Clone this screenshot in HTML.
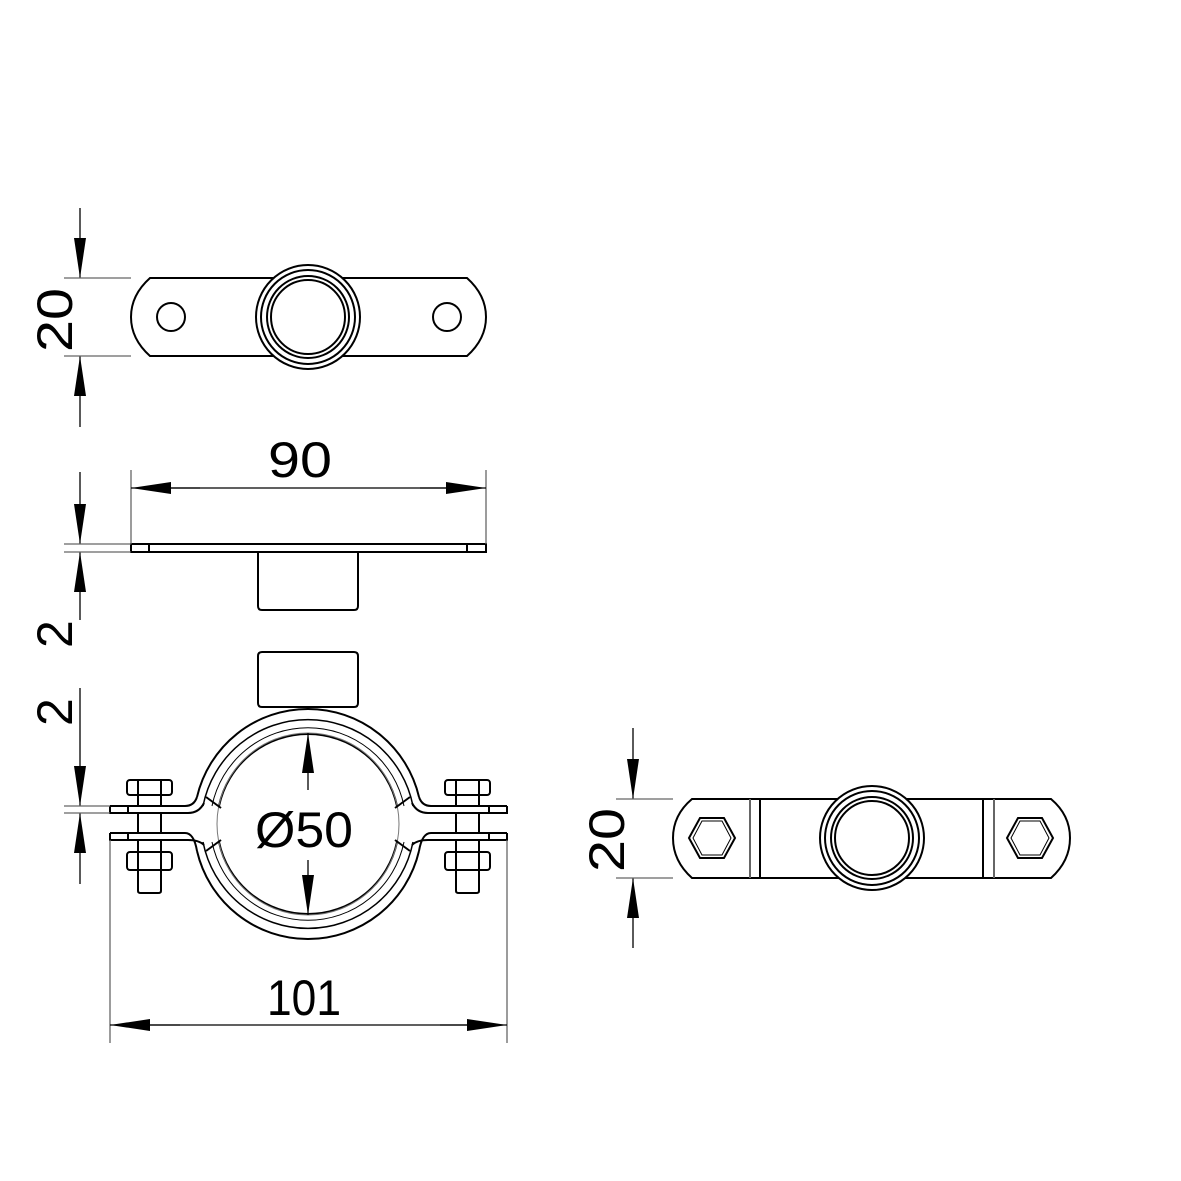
<!DOCTYPE html>
<html><head><meta charset="utf-8"><style>body{margin:0;background:#fff}svg{display:block}</style></head><body>
<svg width="1181" height="1181" viewBox="0 0 1181 1181" xmlns="http://www.w3.org/2000/svg">
<defs>
<marker id="a" viewBox="0 0 40 12" refX="40" refY="6" markerWidth="40" markerHeight="12" markerUnits="userSpaceOnUse" orient="auto"><path d="M0,0 L40,6 L0,12 Z" fill="#000"/></marker>
</defs>
<g fill="none" stroke="#000" stroke-width="2">
<!-- top view -->
<path d="M150,278 H467 Q486,295 486,317 Q486,339 467,356 H150 Q131,339 131,317 Q131,295 150,278 Z"/>
<circle cx="171" cy="317" r="14"/><circle cx="447" cy="317" r="14"/>
<circle cx="308" cy="317" r="52" fill="#fff"/><circle cx="308" cy="317" r="47"/><circle cx="308" cy="317" r="41"/><circle cx="308" cy="317" r="37"/>
<!-- side plate -->
<rect x="131" y="544" width="355" height="8"/>
<line x1="149" y1="544" x2="149" y2="552"/><line x1="467" y1="544" x2="467" y2="552"/>
<path d="M258,552 V606 Q258,610 262,610 H354 Q358,610 358,606 V552"/>
<!-- lower nut -->
<path d="M258,703 V656 Q258,652 262,652 H354 Q358,652 358,656 V703 Q358,707 354,707 H262 Q258,707 258,703 Z"/>
<!-- clamp -->
<path d="M197,797 A114,114 0 0 1 419,797"/>
<path d="M203,806 A107,107 0 0 1 413,806" stroke-width="1.5"/>
<path d="M212,806 A98,98 0 0 1 404,806" stroke-width="1"/>
<path d="M219,806 A91,91 0 0 1 397,806"/>
<path d="M197,851 A114,114 0 0 0 419,851"/>
<path d="M203,842 A107,107 0 0 0 413,842" stroke-width="1.5"/>
<path d="M212,842 A98,98 0 0 0 404,842" stroke-width="1"/>
<path d="M219,842 A91,91 0 0 0 397,842"/>
<circle cx="308" cy="824" r="91" stroke-width="1" stroke="#777"/>
<line x1="206" y1="797" x2="221" y2="808"/><line x1="410" y1="797" x2="395" y2="808"/>
<line x1="206" y1="851" x2="221" y2="840"/><line x1="410" y1="851" x2="395" y2="840"/>
<!-- flanges -->
<path d="M110,806 H185 Q194,806 197,797 M110,806 V813 H188 Q199,813 204,803"/>
<path d="M110,833 H185 Q194,833 197,851 M110,833 V840 H188 Q199,840 204,845"/>
<path d="M507,806 H431 Q422,806 419,797 M507,806 V813 H428 Q417,813 412,803"/>
<path d="M507,833 H431 Q422,833 419,851 M507,833 V840 H428 Q417,840 412,845"/>
<line x1="128" y1="806" x2="128" y2="813"/><line x1="128" y1="833" x2="128" y2="840"/>
<line x1="489" y1="806" x2="489" y2="813"/><line x1="489" y1="833" x2="489" y2="840"/>
<!-- bolts -->
<g id="b">
<rect x="127" y="780" width="45" height="15" rx="3"/>
<line x1="138" y1="780" x2="138" y2="795"/><line x1="161" y1="780" x2="161" y2="795"/>
<line x1="138" y1="795" x2="138" y2="806"/><line x1="161" y1="795" x2="161" y2="806"/>
<line x1="138" y1="813" x2="138" y2="833"/><line x1="161" y1="813" x2="161" y2="833"/>
<line x1="138" y1="840" x2="138" y2="852"/><line x1="161" y1="840" x2="161" y2="852"/>
<rect x="127" y="852" width="45" height="18" rx="3"/>
<line x1="138" y1="852" x2="138" y2="870"/><line x1="161" y1="852" x2="161" y2="870"/>
<path d="M138,870 V891 Q138,893 141,893 H158 Q161,893 161,891 V870"/>
</g>
<use href="#b" x="318"/>
<!-- right view -->
<path d="M692,799 H1051 Q1070,815 1070,838 Q1070,861 1051,878 H692 Q673,861 673,838 Q673,815 692,799 Z"/>
<line x1="750" y1="799" x2="750" y2="878" stroke="#666"/><line x1="760" y1="799" x2="760" y2="878"/>
<line x1="983" y1="799" x2="983" y2="878"/><line x1="994" y1="799" x2="994" y2="878" stroke="#666"/>
<circle cx="872" cy="838" r="52" fill="#fff"/><circle cx="872" cy="838" r="47"/><circle cx="872" cy="838" r="41"/><circle cx="872" cy="838" r="37"/>
<polygon points="689,838 700,818 724,818 735,838 724,858 700,858"/>
<polygon points="693,838 702,821 722,821 731,838 722,855 702,855" stroke-width="1"/>
<polygon points="1007,838 1018,818 1042,818 1053,838 1042,858 1018,858"/>
<polygon points="1011,838 1020,821 1040,821 1049,838 1040,855 1020,855" stroke-width="1"/>
</g>
<!-- dimensions -->
<g stroke="#000" stroke-width="1.3" fill="none">
<line x1="80" y1="208" x2="80" y2="278" marker-end="url(#a)"/>
<line x1="80" y1="427" x2="80" y2="356" marker-end="url(#a)"/>
<line x1="64" y1="278" x2="131" y2="278" stroke="#666"/><line x1="64" y1="356" x2="131" y2="356" stroke="#666"/>
<line x1="131" y1="470" x2="131" y2="544" stroke="#666"/><line x1="486" y1="470" x2="486" y2="544" stroke="#666"/>
<line x1="200" y1="488" x2="131" y2="488" marker-end="url(#a)"/>
<line x1="420" y1="488" x2="486" y2="488" marker-end="url(#a)"/>
<line x1="170" y1="488" x2="450" y2="488"/>
<line x1="80" y1="472" x2="80" y2="544" marker-end="url(#a)"/>
<line x1="80" y1="620" x2="80" y2="552" marker-end="url(#a)"/>
<line x1="64" y1="544" x2="131" y2="544" stroke="#666"/><line x1="64" y1="552" x2="131" y2="552" stroke="#666"/>
<line x1="80" y1="688" x2="80" y2="806" marker-end="url(#a)"/>
<line x1="80" y1="884" x2="80" y2="813" marker-end="url(#a)"/>
<line x1="64" y1="806" x2="110" y2="806" stroke="#666"/><line x1="64" y1="813" x2="110" y2="813" stroke="#666"/>
<line x1="110" y1="840" x2="110" y2="1043" stroke="#666"/><line x1="507" y1="840" x2="507" y2="1043" stroke="#666"/>
<line x1="180" y1="1025" x2="110" y2="1025" marker-end="url(#a)"/>
<line x1="440" y1="1025" x2="507" y2="1025" marker-end="url(#a)"/>
<line x1="150" y1="1025" x2="470" y2="1025"/>
<line x1="308" y1="790" x2="308" y2="733" marker-end="url(#a)"/>
<line x1="308" y1="860" x2="308" y2="915" marker-end="url(#a)"/>
<line x1="633" y1="728" x2="633" y2="799" marker-end="url(#a)"/>
<line x1="633" y1="948" x2="633" y2="878" marker-end="url(#a)"/>
<line x1="616" y1="799" x2="673" y2="799" stroke="#666"/><line x1="616" y1="878" x2="673" y2="878" stroke="#666"/>
</g>
<g font-family="'Liberation Sans', sans-serif" font-size="50" fill="#000">
<text x="268" y="477" textLength="64" lengthAdjust="spacingAndGlyphs">90</text>
<text x="267" y="1015" textLength="74" lengthAdjust="spacingAndGlyphs">101</text>
<text x="255" y="847" textLength="98" lengthAdjust="spacingAndGlyphs">Ø50</text>
<text transform="translate(72,352) rotate(-90)" textLength="64" lengthAdjust="spacingAndGlyphs">20</text>
<text transform="translate(72,648) rotate(-90)">2</text>
<text transform="translate(72,726) rotate(-90)">2</text>
<text transform="translate(624,872) rotate(-90)" textLength="64" lengthAdjust="spacingAndGlyphs">20</text>
</g>
</svg>
</body></html>
